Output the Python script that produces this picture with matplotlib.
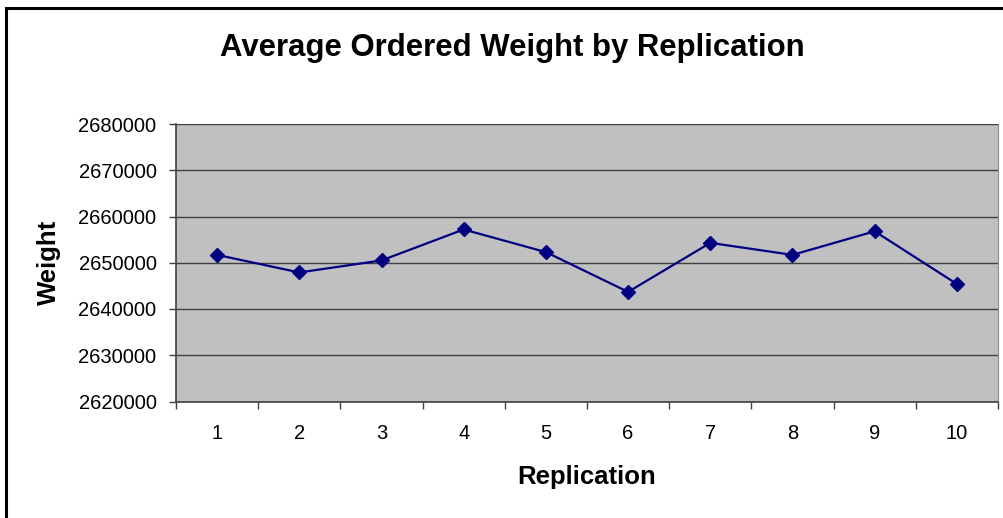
import matplotlib
matplotlib.use("Agg")
import matplotlib.pyplot as plt
from matplotlib.patches import Rectangle

plt.rcParams['font.family'] = ['Liberation Sans', 'DejaVu Sans']

# Data
replications = [1, 2, 3, 4, 5, 6, 7, 8, 9, 10]
avg_weight = [2651700, 2647900, 2650500, 2657200, 2652300,
              2643700, 2654300, 2651700, 2656800, 2645400]
y_ticks = [2620000, 2630000, 2640000, 2650000, 2660000, 2670000, 2680000]

W, H = 1004, 518
fig = plt.figure(figsize=(W / 100, H / 100), dpi=100)

# outer chart border (cut by the right and bottom edges)
fig.patches.append(Rectangle((6 / W, -0.05), 1.1, 1 - 8 / H + 0.05,
                             transform=fig.transFigure, fill=False,
                             edgecolor='black', linewidth=2.2))

left, right, top, bottom = 176, 998, 124, 401.5
ax = fig.add_axes([left / W, 1 - bottom / H, (right - left) / W, (bottom - top) / H])
ax.set_facecolor('#C0C0C0')

ax.plot(replications, avg_weight, color='#000080', linewidth=1.6,
        marker='D', markersize=7, zorder=3)

ax.set_xlim(0.5, 10.5)
ax.set_ylim(y_ticks[0], y_ticks[-1])
ax.set_yticks(y_ticks)
ax.set_yticklabels([str(v) for v in y_ticks], fontsize=14.5)
ax.yaxis.grid(True, color='#404040', linewidth=1.0)
ax.set_axisbelow(True)

# category axis: ticks between categories, labels at centres
ax.set_xticks([x + 0.5 for x in [0] + replications])
ax.set_xticklabels([])
ax.set_xticks(replications, minor=True)
ax.set_xticklabels([str(r) for r in replications], minor=True, fontsize=14.5)
ax.tick_params(axis='x', which='minor', length=0, pad=16)
ax.tick_params(axis='x', which='major', length=5, width=1, color='#404040', direction='out')
ax.tick_params(axis='y', length=5, width=1, color='#404040', direction='out', pad=9)

for s in ['left', 'bottom']:
    ax.spines[s].set_color('#404040')
    ax.spines[s].set_linewidth(1.2)
ax.spines['right'].set_color('#909090')
ax.spines['top'].set_visible(False)

ax.set_xlabel('Replication', fontsize=18.5, fontweight='bold', labelpad=16)
ax.set_ylabel('Weight', fontsize=18.5, fontweight='bold')
ax.yaxis.set_label_coords((61 - left) / (right - left), 0.5)

fig.text(512 / W, 1 - 48 / H, 'Average Ordered Weight by Replication',
         fontsize=22.4, fontweight='bold', ha='center', va='center')

fig.savefig('out.png', dpi=100)
